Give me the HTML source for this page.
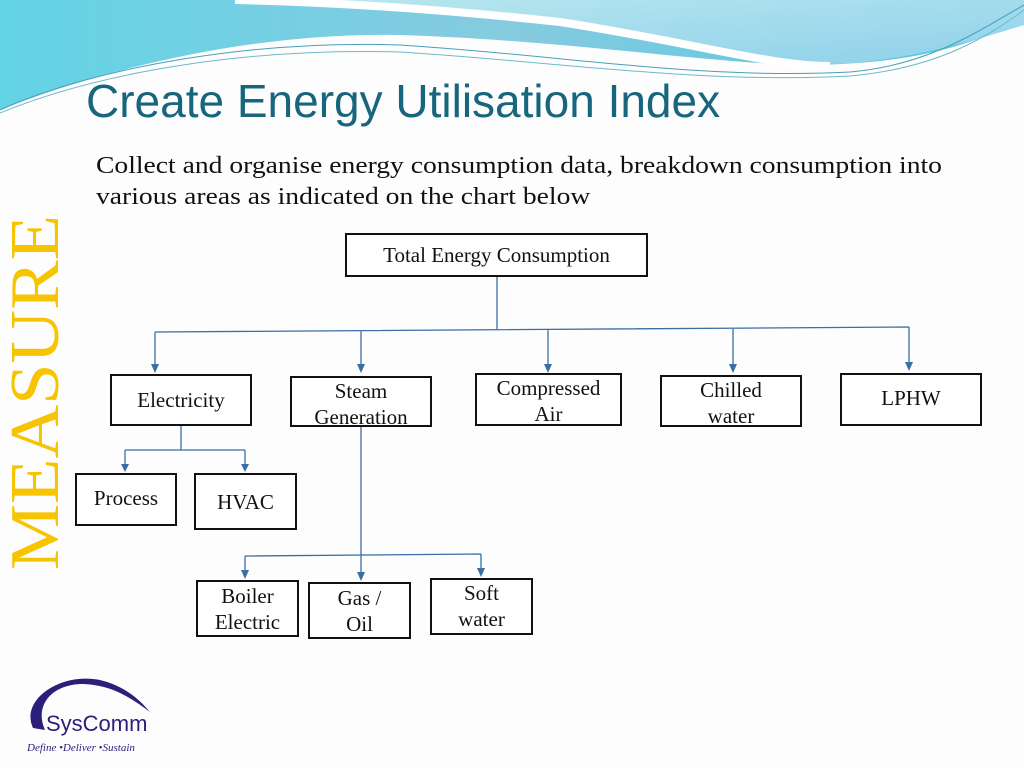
<!DOCTYPE html>
<html><head><style>
body{margin:0;width:1024px;height:768px;overflow:hidden;background:#fdfdfd;position:relative;font-family:"Liberation Serif",serif}
.b{position:absolute;border:2px solid #111;background:#fff;box-sizing:border-box;display:flex;align-items:center;justify-content:center;text-align:center;font-size:21px;line-height:26px;color:#111}
.t{position:absolute;left:86px;top:74px;font-family:"Liberation Sans",sans-serif;font-size:46px;color:#17667e;white-space:nowrap}
.p{position:absolute;left:96px;top:151px;font-size:24px;line-height:31px;color:#111;transform:scaleX(1.15);transform-origin:left;white-space:nowrap}
</style></head><body>
<svg style="position:absolute;left:0;top:0" width="1024" height="768">
<defs>
<linearGradient id="g1" x1="0" y1="0" x2="1" y2="0"><stop offset="0" stop-color="#63d3e6"/><stop offset="0.5" stop-color="#86cbe0"/><stop offset="1" stop-color="#4ec6e0"/></linearGradient>
<linearGradient id="g2" x1="0" y1="0" x2="1" y2="1"><stop offset="0" stop-color="#b9e8ef"/><stop offset="1" stop-color="#8fd0ea"/></linearGradient>
</defs>
<path d="M0 0 H1024 V20 C960 50 900 65 800 65 C700 62 560 40 400 35 C250 32 100 70 0 110 Z" fill="url(#g1)"/>
<path d="M235 0 H1024 V25 C960 45 900 62 830 64 C770 64 690 40 560 20 C430 5 330 0 235 0 Z" fill="url(#g2)"/>
<path d="M235 0 C330 2 430 8 560 22 C690 42 770 66 830 66" stroke="#fff" stroke-width="8" fill="none"/>
<path d="M0 110 C100 65 260 40 400 45 C560 55 700 80 850 72 C930 65 980 30 1024 5" stroke="#4a9fb8" stroke-width="1" fill="none"/>
<path d="M0 113 C110 68 260 48 400 52 C560 62 700 84 850 76 C940 68 990 35 1024 10" stroke="#6fb9c9" stroke-width="1" fill="none"/>
<text transform="translate(58,570) rotate(-90)" font-family="Liberation Serif,serif" font-size="70" fill="#f6c400" textLength="355" lengthAdjust="spacingAndGlyphs">MEASURE</text>
<g stroke="#3a6ea5" stroke-width="1.3" fill="none">
<path d="M497 276 V330 M155 332 L909 327 M155 332 V366 M361 331 V366 M548 330 V366 M733 329 V366 M909 327 V364"/>
<path d="M181 425 V450 M125 450 H245 M125 450 V466 M245 450 V466"/>
<path d="M361 426 V555 M245 556 L481 554 M245 556 V572 M361 555 V574 M481 554 V570"/>
</g>
<g fill="#3a6ea5">
<path d="M151 364 L159 364 L155 373Z M357 364 L365 364 L361 373Z M544 364 L552 364 L548 373Z M729 364 L737 364 L733 373Z M905 362 L913 362 L909 371Z"/>
<path d="M121 464 L129 464 L125 472Z M241 464 L249 464 L245 472Z"/>
<path d="M241 570 L249 570 L245 579Z M357 572 L365 572 L361 581Z M477 568 L485 568 L481 577Z"/>
</g>
<path d="M33 728 C20 700 60 672 100 680 C125 686 140 700 150 712 C130 697 110 684 80 684 C48 686 35 708 45 730 Z" fill="#2a1f7a"/>
<text x="46" y="731" font-family="Liberation Sans,sans-serif" font-size="22" fill="#2a1f7a">SysComm</text>
<text x="27" y="751" font-family="Liberation Serif,serif" font-style="italic" font-size="11" fill="#2a1f7a">Define  •Deliver  •Sustain</text>
</svg>
<div class="t">Create Energy Utilisation Index</div>
<div class="p">Collect and organise energy consumption data, breakdown consumption into<br>various areas as indicated on the chart below</div>
<div class="b" style="left:345px;top:233px;width:303px;height:44px">Total Energy Consumption</div>
<div class="b" style="left:110px;top:374px;width:142px;height:52px">Electricity</div>
<div class="b" style="left:290px;top:376px;width:142px;height:51px;align-items:flex-start">Steam<br>Generation</div>
<div class="b" style="left:475px;top:373px;width:147px;height:53px;align-items:flex-start">Compressed<br>Air</div>
<div class="b" style="left:660px;top:375px;width:142px;height:52px;align-items:flex-start">Chilled<br>water</div>
<div class="b" style="left:840px;top:373px;width:142px;height:53px;padding-bottom:4px">LPHW</div>
<div class="b" style="left:75px;top:473px;width:102px;height:53px;padding-bottom:4px">Process</div>
<div class="b" style="left:194px;top:473px;width:103px;height:57px">HVAC</div>
<div class="b" style="left:196px;top:580px;width:103px;height:57px">Boiler<br>Electric</div>
<div class="b" style="left:308px;top:582px;width:103px;height:57px">Gas /<br>Oil</div>
<div class="b" style="left:430px;top:578px;width:103px;height:57px;align-items:flex-start">Soft<br>water</div>
</body></html>
